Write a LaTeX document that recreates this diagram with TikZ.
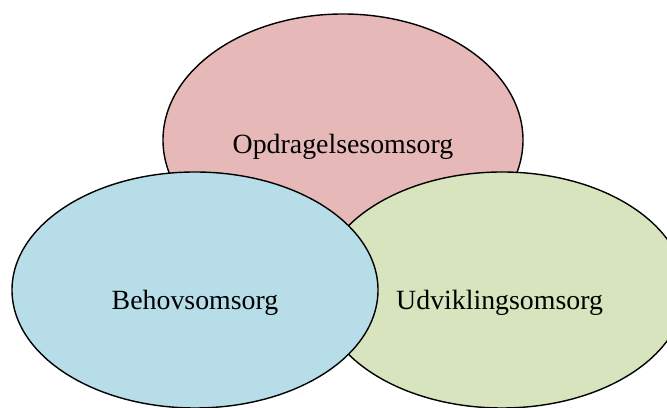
\documentclass[tikz,border=0pt]{standalone}
\usepackage{fontspec}
\setmainfont{Liberation Serif}
\usetikzlibrary{shapes.geometric}
\definecolor{rosa}{HTML}{E6B9B8}
\definecolor{lyseblaa}{HTML}{B7DEE8}
\definecolor{olivengroen}{HTML}{D7E4BD}
\tikzset{
	omsorg/.style={ellipse, draw=black, line width=1pt, inner sep=0pt},
	tekst/.style={anchor=base, font=\fontsize{19.8}{24}\selectfont}
}
\begin{document}
\begin{tikzpicture}
	\useasboundingbox (0,0) rectangle (16.675,10.2);
	
	\node[omsorg, fill=rosa, minimum width=9cm, minimum height=6.3cm] at (8.575,6.7) (opd) {};
	\node[omsorg, fill=olivengroen, minimum width=9.15cm, minimum height=5.9cm] at (12.55,2.95) (udv) {};
	\node[omsorg, fill=lyseblaa, minimum width=9.15cm, minimum height=5.9cm] at (4.875,2.95) (beh) {};
	
	\node[tekst] at (8.575,6.35) (opdtekst) {Opdragelsesomsorg};
	\node[tekst] at (4.875,2.45) (behtekst) {Behovsomsorg};
	\node[tekst] at (12.49,2.45) (udvtekst) {Udviklingsomsorg};
\end{tikzpicture}
\end{document}
